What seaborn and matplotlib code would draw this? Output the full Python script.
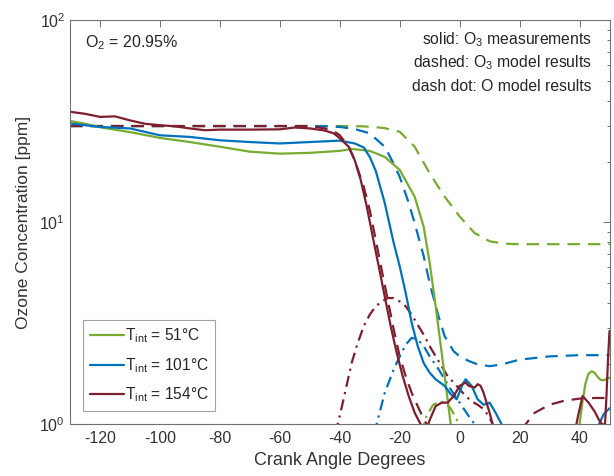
import numpy as np
import pandas as pd
import matplotlib
matplotlib.use("Agg")
import matplotlib.pyplot as plt
import seaborn as sns
from matplotlib.ticker import LogLocator, FixedLocator

# ---------------- data ----------------
# T_int = 51 C
g_meas_x1 = [-130, -125, -120, -110, -100, -90, -80, -70, -60, -50, -40, -36, -30, -25, -20, -15, -12, -10, -8, -6, -4, -3, -2.5]
g_meas_y1 = [31.8, 30.8, 29.6, 28.0, 26.2, 25.0, 23.7, 22.4, 21.9, 22.1, 22.6, 23.1, 22.6, 21.1, 18.2, 13.4, 9.5, 6.3, 3.84, 2.26, 1.33, 1.0, 0.85]
g_meas_x2 = [39.3, 40, 41, 42, 43, 44, 45, 46, 47, 48, 49, 50]
g_meas_y2 = [0.85, 1.0, 1.3, 1.6, 1.78, 1.83, 1.8, 1.72, 1.66, 1.65, 1.68, 1.7]
g_o3m_x = [-130, -40, -32, -28, -25, -20, -15, -10, -5, 0, 5, 10, 15, 20, 30, 40, 50]
g_o3m_y = [30, 30, 29.9, 29.6, 29.3, 28.1, 23.7, 17.5, 13.4, 10.7, 8.85, 8.06, 7.84, 7.8, 7.8, 7.8, 7.8]
g_om_x = [-13, -11, -9, -7, -5, -3, -1, 0]
g_om_y = [0.9, 1.1, 1.24, 1.3, 1.28, 1.2, 1.06, 0.95]

# T_int = 101 C
b_meas_x1 = [-130, -120, -110, -100, -90, -80, -70, -60, -50, -40, -35, -32, -30, -28, -25, -22, -20, -18, -16, -14, -12, -10, -8, -5, -3, -1, 1, 2, 4, 6, 8, 10, 12, 14, 15]
b_meas_y1 = [30.9, 29.7, 29.2, 27.0, 26.5, 25.5, 25.0, 24.6, 25.0, 25.4, 24.6, 23.5, 21.1, 18.0, 12.5, 7.9, 6.06, 4.47, 3.18, 2.44, 2.01, 1.80, 1.67, 1.55, 1.41, 1.33, 1.58, 1.67, 1.55, 1.33, 1.25, 1.28, 1.14, 1.0, 0.9]
b_meas_x2 = [45.5, 46.5, 48, 50]
b_meas_y2 = [0.85, 1.0, 1.12, 1.2]
b_o3m_x = [-130, -50, -45, -40, -35, -30, -25, -22, -20, -17, -15, -12, -10, -7, -5, -2, 0, 3, 6, 10, 14, 20, 30, 40, 50]
b_o3m_y = [30, 30, 29.9, 29.7, 29.0, 27.6, 23.7, 19.5, 16.8, 12.5, 9.9, 6.8, 5.0, 3.4, 2.73, 2.3, 2.17, 2.06, 1.98, 1.94, 1.98, 2.09, 2.17, 2.2, 2.2]
b_om_x = [-28.5, -27, -25, -22, -20, -18, -16, -14, -12, -10, -7, -5, -3, 0, 3, 5, 5.5]
b_om_y = [0.9, 1.1, 1.43, 1.87, 2.17, 2.48, 2.68, 2.63, 2.44, 2.17, 1.87, 1.67, 1.49, 1.28, 1.10, 1.0, 0.95]

# T_int = 154 C
r_meas_x1 = [-130, -125, -120, -115, -110, -105, -100, -95, -90, -85, -80, -70, -60, -55, -50, -45, -42, -40, -37, -35, -33, -31, -29, -27, -25, -23, -21, -19, -17, -15, -13, -12]
r_meas_y1 = [35.3, 34.5, 33.3, 33.5, 32.0, 30.8, 30.3, 29.9, 29.2, 28.6, 28.8, 28.8, 28.9, 29.5, 29.2, 28.5, 27.6, 26.1, 23.7, 20.3, 16.2, 12.0, 8.5, 6.06, 4.3, 3.06, 2.26, 1.73, 1.38, 1.14, 1.0, 0.93]
r_meas_x2 = [-11.5, -10, -8, -6, -4, -2, 0, 2, 3, 5, 6, 7, 8, 10, 11, 11.5]
r_meas_y2 = [0.9, 1.05, 1.23, 1.28, 1.28, 1.38, 1.55, 1.61, 1.55, 1.52, 1.58, 1.55, 1.43, 1.14, 1.0, 0.93]
r_meas_x3 = [38, 39.5, 41, 43, 45, 46.5, 47.5, 48.5, 49, 49.5, 50]
r_meas_y3 = [0.85, 1.1, 1.38, 1.28, 1.16, 1.05, 1.0, 1.0, 1.4, 2.1, 2.9]
r_o3m_x1 = [-130, -50, -45, -42, -40, -37, -35, -32, -30, -28, -26, -24, -22, -20, -18, -16, -14, -12, -11, -10.5]
r_o3m_y1 = [30, 30, 29.2, 28.3, 27.0, 23.7, 20.3, 15.0, 11.5, 8.2, 5.8, 4.14, 2.95, 2.17, 1.73, 1.43, 1.23, 1.06, 1.0, 0.95]
r_o3m_x2 = [21, 22, 25, 30, 35, 40, 45, 50]
r_o3m_y2 = [0.93, 1.0, 1.14, 1.25, 1.31, 1.34, 1.35, 1.35]
r_om_x = [-41.5, -40, -38, -36, -34, -32, -30, -28, -26, -24, -22, -20, -18, -16, -14, -12, -10, -8, -6, -4, -2, 0, 2, 4, 6, 8, 10, 11, 11.5]
r_om_y = [0.9, 1.1, 1.49, 2.02, 2.53, 3.06, 3.49, 3.84, 4.06, 4.22, 4.22, 4.06, 3.84, 3.49, 3.11, 2.78, 2.44, 2.17, 1.94, 1.73, 1.61, 1.49, 1.38, 1.30, 1.25, 1.19, 1.08, 1.0, 0.95]

labels = [r"T$_{\mathrm{int}}$ = 51°C", r"T$_{\mathrm{int}}$ = 101°C", r"T$_{\mathrm{int}}$ = 154°C"]
xticks = [-120, -100, -80, -60, -40, -20, 0, 20, 40]

# ---------------- style ----------------
sns.set_theme(style="white")
plt.rcParams["font.family"] = ["Liberation Sans", "DejaVu Sans"]
plt.rcParams["mathtext.fontset"] = "custom"
plt.rcParams["mathtext.rm"] = "Liberation Sans"
plt.rcParams["mathtext.it"] = "Liberation Sans:italic"
plt.rcParams["mathtext.default"] = "regular"
plt.rcParams["axes.unicode_minus"] = False

GREEN = "#77AC30"
BLUE = "#0072BD"
RED = "#7E1E2E"
TXT = "#262626"
AX = "#707070"

fig = plt.figure(figsize=(6.14, 4.76), dpi=100)
ax = fig.add_axes([0.114, 0.1086, 0.8787, 0.8484])

LW = 1.6
DASH = (0, (5.6, 3.6))
DASHDOT = (0, (5.0, 2.4, 1.0, 2.4))


def seg(x, y, color, ls, label=None):
    df = pd.DataFrame({"x": x, "y": y})
    sns.lineplot(data=df, x="x", y="y", ax=ax, color=color, linestyle=ls,
                 linewidth=LW, estimator=None, sort=False, label=label,
                 legend=bool(label))


# dashed / dash-dot first (drawn under)
seg(g_o3m_x, g_o3m_y, GREEN, DASH)
seg(b_o3m_x, b_o3m_y, BLUE, DASH)
seg(r_o3m_x1, r_o3m_y1, RED, DASH)
seg(r_o3m_x2, r_o3m_y2, RED, DASH)
seg(g_om_x, g_om_y, GREEN, DASHDOT)
seg(b_om_x, b_om_y, BLUE, DASHDOT)
seg(r_om_x, r_om_y, RED, DASHDOT)

# solid measurements
seg(g_meas_x1, g_meas_y1, GREEN, "-", labels[0])
seg(g_meas_x2, g_meas_y2, GREEN, "-")
seg(b_meas_x1, b_meas_y1, BLUE, "-", labels[1])
seg(b_meas_x2, b_meas_y2, BLUE, "-")
seg(r_meas_x1, r_meas_y1, RED, "-", labels[2])
seg(r_meas_x2, r_meas_y2, RED, "-")
seg(r_meas_x3, r_meas_y3, RED, "-")

ax.set_yscale("log")
ax.set_xlim(-130, 50)
ax.set_ylim(1, 100)
ax.xaxis.set_major_locator(FixedLocator(xticks))
ax.yaxis.set_major_locator(LogLocator(base=10, numticks=5))
ax.yaxis.set_minor_locator(LogLocator(base=10, subs=np.arange(2, 10), numticks=20))

for s in ax.spines.values():
    s.set_color(AX)
    s.set_linewidth(0.8)

ax.tick_params(which="both", direction="in", top=True, right=True, color=AX,
               width=0.7, labelcolor="#333333")
ax.tick_params(which="major", length=5, labelsize=11.5)
ax.tick_params(which="minor", length=2.5)
ax.tick_params(axis="x", which="minor", top=False, bottom=False)
ax.tick_params(axis="x", pad=5)

ax.set_xlabel("Crank Angle Degrees", fontsize=13, color="#333333", labelpad=4)
ax.set_ylabel("Ozone Concentration [ppm]", fontsize=12.5, color="#333333", labelpad=6)

ax.text(0.028, 0.946, r"O$_2$ = 20.95%", transform=ax.transAxes, fontsize=11.5,
        color=TXT, ha="left", va="center")
ax.text(0.967, 0.953, r"solid: O$_3$ measurements", transform=ax.transAxes,
        fontsize=11.3, color=TXT, ha="right", va="center")
ax.text(0.967, 0.896, r"dashed: O$_3$ model results", transform=ax.transAxes,
        fontsize=11.3, color=TXT, ha="right", va="center")
ax.text(0.967, 0.837, "dash dot: O model results", transform=ax.transAxes,
        fontsize=11.3, color=TXT, ha="right", va="center")

leg = ax.legend(loc="lower left", bbox_to_anchor=(0.0247, 0.034), fontsize=11.2,
                frameon=True, fancybox=False, edgecolor="#8a8a8a",
                handlelength=2.2, handletextpad=0.05, labelspacing=0.7,
                borderpad=0.4, borderaxespad=0.0)
leg.get_frame().set_linewidth(0.8)
for t in leg.get_texts():
    t.set_color(TXT)

fig.savefig("out.png", dpi=100)
